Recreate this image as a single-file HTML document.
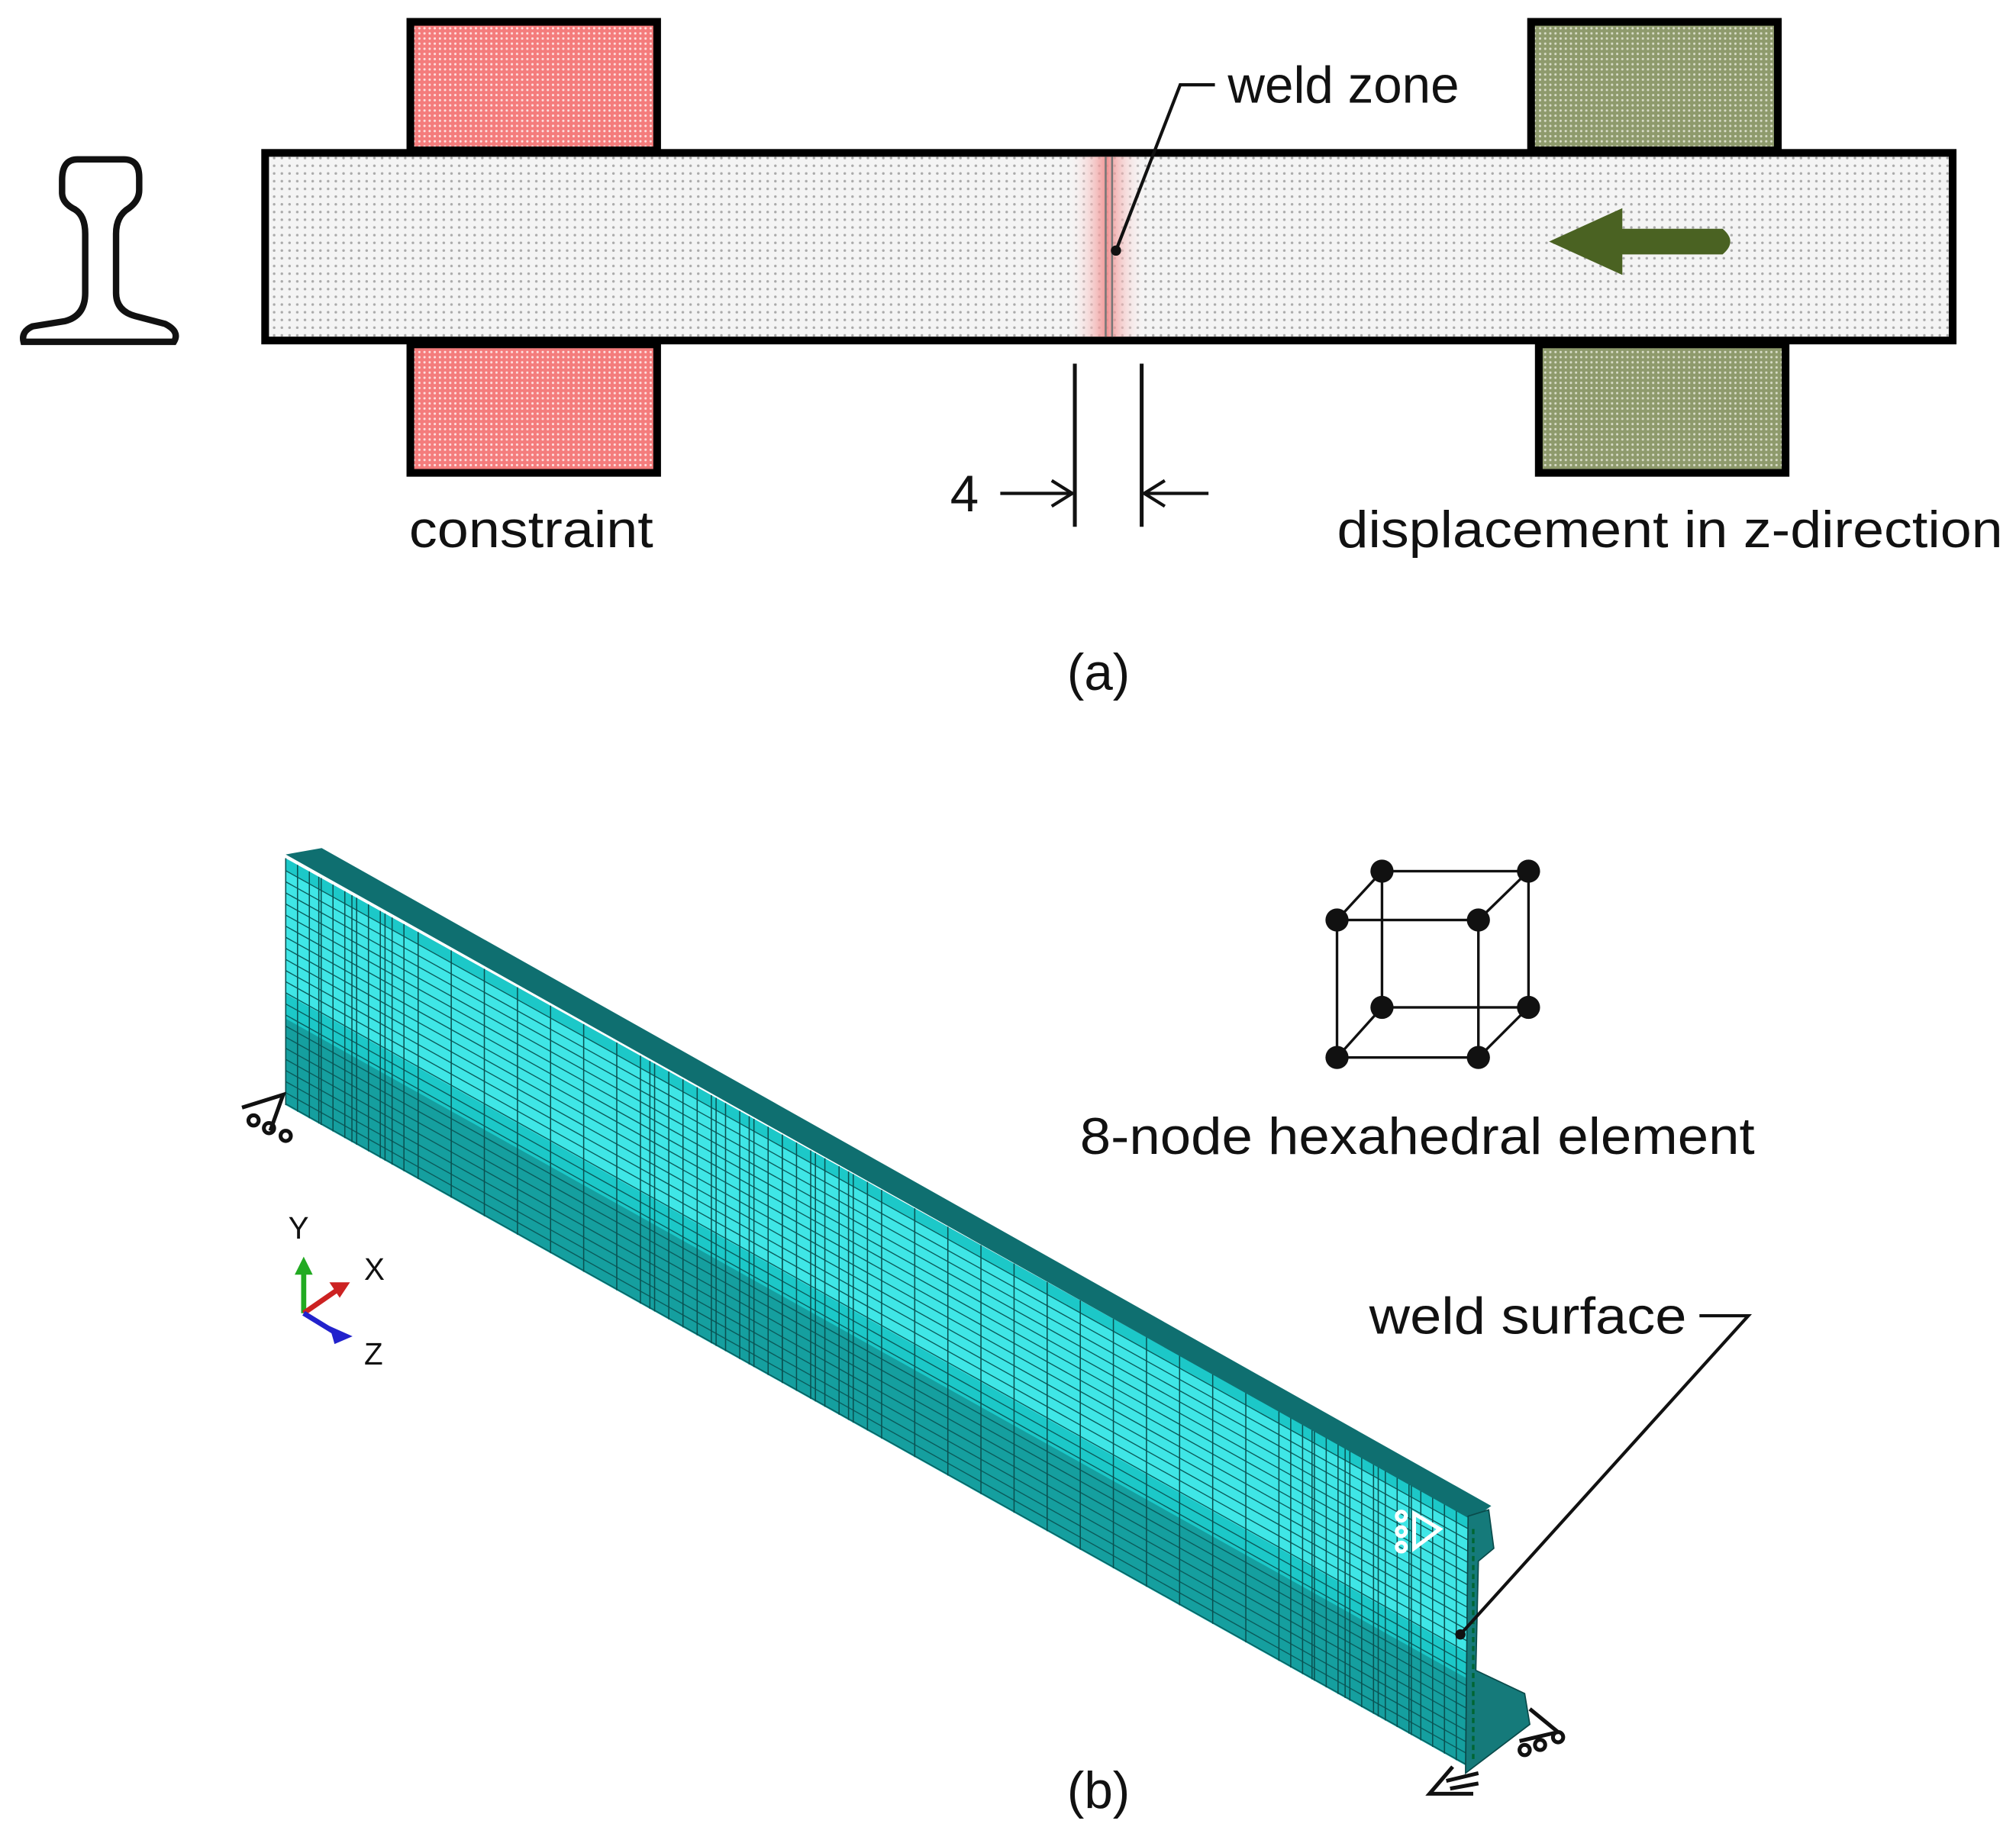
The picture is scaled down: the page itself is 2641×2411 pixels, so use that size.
<!DOCTYPE html>
<html><head><meta charset="utf-8"><style>
html,body{margin:0;padding:0;background:#fff}
svg{display:block}
text{font-family:"Liberation Sans",Arial,sans-serif;fill:#111}
</style></head><body>
<svg id="s" width="2641" height="2411" viewBox="0 0 1568 1432" xmlns="http://www.w3.org/2000/svg">
<defs>
<pattern id="dots" width="6" height="6" patternUnits="userSpaceOnUse"><rect width="6" height="6" fill="#f4f4f4"/><circle cx="3" cy="3" r="1" fill="#aaa"/></pattern>
<pattern id="red" width="4" height="4" patternUnits="userSpaceOnUse"><rect width="4" height="4" fill="#f47c7c"/><circle cx="2" cy="2" r="0.9" fill="#fde0e0"/></pattern>
<pattern id="grn" width="4" height="4" patternUnits="userSpaceOnUse"><rect width="4" height="4" fill="#8e9a6c"/><circle cx="2" cy="2" r="0.9" fill="#d8dcc8"/></pattern>
<linearGradient id="weld" x1="0" x2="1"><stop offset="0" stop-color="#fff" stop-opacity="0"/><stop offset="0.5" stop-color="#f08a8a"/><stop offset="1" stop-color="#fff" stop-opacity="0"/></linearGradient>
</defs>

<!-- rail icon -->
<path d="M60 124 Q48 124 48 140 L48 150 Q48 158 58 163 Q66 168 66 182 L66 228 Q66 246 50 250 L25 254 Q16 258 18 266 L135 266 Q140 258 128 252 L105 246 Q90 242 90 228 L90 182 Q90 168 100 162 Q108 156 108 148 L108 138 Q108 124 96 124 Z" fill="none" stroke="#111" stroke-width="5"/>

<!-- blocks -->
<rect x="319" y="17" width="192" height="100" fill="url(#red)" stroke="#000" stroke-width="6"/>
<rect x="319" y="268" width="192" height="100" fill="url(#red)" stroke="#000" stroke-width="6"/>
<rect x="1191" y="17" width="192" height="100" fill="url(#grn)" stroke="#000" stroke-width="6"/>
<rect x="1197" y="268" width="192" height="100" fill="url(#grn)" stroke="#000" stroke-width="6"/>
<!-- bar -->
<rect x="206" y="119" width="1313" height="146" fill="url(#dots)" stroke="#000" stroke-width="6"/>
<rect x="830" y="122" width="62" height="140" fill="url(#weld)" opacity="0.9"/>
<line x1="860" y1="122" x2="860" y2="262" stroke="#777" stroke-width="1.5"/>
<line x1="865" y1="122" x2="865" y2="262" stroke="#777" stroke-width="1.5"/>
<!-- green arrow -->
<path d="M1205 188 L1262 162 L1262 178 L1340 178 Q1352 188 1340 198 L1262 198 L1262 214 Z" fill="#4a6222"/>
<!-- weld zone leader -->
<polyline points="945,66 918,66 868,195" fill="none" stroke="#111" stroke-width="2.5"/>
<circle cx="868" cy="195" r="4" fill="#111"/>
<text x="955" y="80" font-size="40">weld zone</text>
<!-- dimension -->
<line x1="836" y1="283" x2="836" y2="410" stroke="#111" stroke-width="3"/>
<line x1="888" y1="283" x2="888" y2="410" stroke="#111" stroke-width="3"/>
<line x1="778" y1="384" x2="834" y2="384" stroke="#111" stroke-width="2.5"/>
<polyline points="818,374 834,384 818,394" fill="none" stroke="#111" stroke-width="2.5"/>
<line x1="890" y1="384" x2="940" y2="384" stroke="#111" stroke-width="2.5"/>
<polyline points="906,374 890,384 906,394" fill="none" stroke="#111" stroke-width="2.5"/>
<text x="739" y="398" font-size="40">4</text>
<text x="318" y="426" font-size="40" textLength="190" lengthAdjust="spacingAndGlyphs">constraint</text>
<text x="1040" y="426" font-size="40" textLength="518" lengthAdjust="spacingAndGlyphs">displacement in z-direction</text>
<text x="830" y="537" font-size="40">(a)</text>

<!-- part b mesh -->
<g id="mesh">
<polygon points="222,668 1142,1180 1142,1375 222,860" fill="#1cc8c8"/>
</g>
<polygon points="222,665 250,660 1160,1172 1145,1183" fill="#0f6f70"/>
<polygon points="1142,1180 1158,1175 1162,1205 1150,1215 1148,1300 1186,1318 1190,1342 1140,1380" fill="#157a7a" stroke="#0a4a4a" stroke-width="1"/>
<line x1="1146" y1="1190" x2="1146" y2="1370" stroke="#063" stroke-width="2" stroke-dasharray="4,3"/>

<!-- white support on end -->
<g stroke="#fff" stroke-width="3" fill="none">
<polygon points="1100,1178 1120,1190 1100,1205"/>
<circle cx="1090" cy="1180" r="3.5"/><circle cx="1090" cy="1192" r="3.5"/><circle cx="1090" cy="1204" r="3.5"/>
</g>
<!-- black supports -->
<g stroke="#111" stroke-width="3" fill="none">
<polyline points="188,862 220,852 210,880"/>
<circle cx="197" cy="872" r="4"/><circle cx="209" cy="878" r="4"/><circle cx="222" cy="884" r="4"/>
<polyline points="1190,1330 1212,1348 1182,1355"/>
<circle cx="1186" cy="1362" r="4"/><circle cx="1198" cy="1358" r="4"/><circle cx="1212" cy="1352" r="4"/>
<polyline points="1130,1375 1112,1396 1146,1396"/>
<line x1="1125" y1="1386" x2="1150" y2="1380"/><line x1="1128" y1="1392" x2="1150" y2="1388"/>
</g>

<!-- axes -->
<line x1="236" y1="1022" x2="236" y2="988" stroke="#2a2" stroke-width="4"/>
<polygon points="229,992 236,978 243,992" fill="#2a2"/>
<line x1="236" y1="1022" x2="262" y2="1004" stroke="#c22" stroke-width="4"/>
<polygon points="256,998 272,998 264,1010" fill="#c22"/>
<line x1="236" y1="1022" x2="262" y2="1038" stroke="#22c" stroke-width="4"/>
<polygon points="256,1032 274,1040 260,1046" fill="#22c"/>
<text x="224" y="964" font-size="24" fill="#333">Y</text>
<text x="283" y="996" font-size="24" fill="#333">X</text>
<text x="283" y="1062" font-size="24" fill="#333">Z</text>

<!-- cube -->
<g stroke="#111" stroke-width="2" fill="none">
<rect x="1075" y="678" width="114" height="106"/>
<rect x="1040" y="716" width="110" height="107"/>
<line x1="1040" y1="716" x2="1075" y2="678"/><line x1="1150" y1="716" x2="1189" y2="678"/>
<line x1="1040" y1="823" x2="1075" y2="784"/><line x1="1150" y1="823" x2="1189" y2="784"/>
</g>
<g fill="#111">
<circle cx="1075" cy="678" r="9"/><circle cx="1189" cy="678" r="9"/><circle cx="1075" cy="784" r="9"/><circle cx="1189" cy="784" r="9"/>
<circle cx="1040" cy="716" r="9"/><circle cx="1150" cy="716" r="9"/><circle cx="1040" cy="823" r="9"/><circle cx="1150" cy="823" r="9"/>
</g>
<text x="840" y="898" font-size="40" textLength="525" lengthAdjust="spacingAndGlyphs">8-node hexahedral element</text>
<text x="1065" y="1038" font-size="40" textLength="247" lengthAdjust="spacingAndGlyphs">weld surface</text>
<polyline points="1322,1024 1360,1024 1136,1272" fill="none" stroke="#111" stroke-width="2.5"/>
<circle cx="1136" cy="1272" r="4" fill="#111"/>
<text x="830" y="1407" font-size="40">(b)</text>
</svg>
<script>
(function(){
var g=document.getElementById('mesh'),ns='http://www.w3.org/2000/svg';
function P(t,s){return [222+920*t,668+512*t+(192+3*t)*s];}
function poly(pts,fill){var p=document.createElementNS(ns,'polygon');p.setAttribute('points',pts.map(function(a){return a.join(',')}).join(' '));p.setAttribute('fill',fill);g.appendChild(p);}
function line(a,b,c,w){var l=document.createElementNS(ns,'line');l.setAttribute('x1',a[0]);l.setAttribute('y1',a[1]);l.setAttribute('x2',b[0]);l.setAttribute('y2',b[1]);l.setAttribute('stroke',c);l.setAttribute('stroke-width',w);g.appendChild(l);}
// light band
poly([P(0,0.05),P(1,0.05),P(1,0.55),P(0,0.55)],'#3fe6e6');
poly([P(0,0.65),P(1,0.65),P(1,1),P(0,1)],'#159f9f');
// horizontal (along length) lines
for(var s=0.05;s<1;s+=0.045){line(P(0,s),P(1,s),'#0a5a5a',0.8);}
// vertical lines, denser near middle and ends
var ts=[];for(var t=0;t<=1;t+=0.028)ts.push(t);
for(var t=0.3;t<0.5;t+=0.012)ts.push(t);
for(var t=0.85;t<1;t+=0.01)ts.push(t);
for(var t=0;t<0.1;t+=0.01)ts.push(t);
ts.forEach(function(t){line(P(t,0),P(t,1),'#0a5050',0.9);});
})();
</script>
</body></html>
